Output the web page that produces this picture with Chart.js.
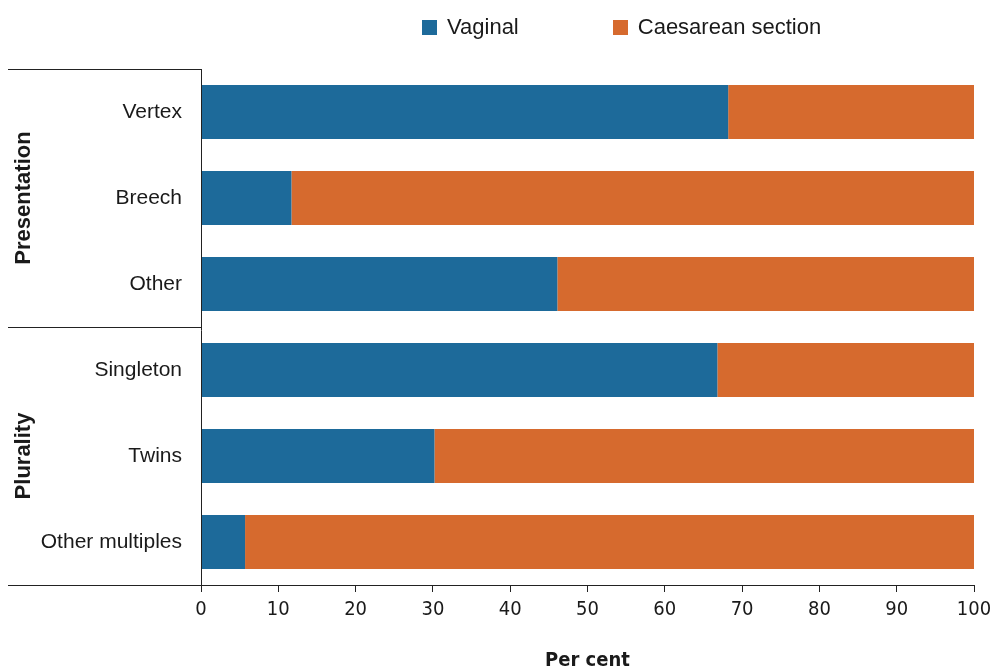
<!DOCTYPE html>
<html>
<head>
<meta charset="utf-8">
<script src="https://cdn.jsdelivr.net/npm/chart.js@4"></script>
<style>
  body{margin:0;background:#fff;font-family:'Liberation Sans',Arial,sans-serif;}
  .wrap{position:relative;width:990px;height:670px;}
  .legend{position:absolute;left:422px;top:14px;display:flex;align-items:center;font-size:22px;color:#1a1a1a;}
  .legend .sw{width:15px;height:15px;display:inline-block;margin-right:10px;}
  .legend .item{display:flex;align-items:center;}
  .legend .item + .item{margin-left:94px;}
</style>
</head>
<body>
<div class="wrap">
  <canvas id="c"></canvas>
  <div class="legend">
    <span class="item"><span class="sw" style="background:#1d6a9a"></span>Vaginal</span>
    <span class="item"><span class="sw" style="background:#d66a2e"></span>Caesarean section</span>
  </div>
</div>
<script>
// data
const categories = ['Vertex','Breech','Other','Singleton','Twins','Other multiples'];
const groupNames = ['Presentation','Plurality'];
const groupSizes = [3,3];
const vaginal    = [68.2, 11.7, 46.1, 66.8, 30.2, 5.7];
const caesarean  = [31.8, 88.3, 53.9, 33.2, 69.8, 94.3];
const xTicks = [0,10,20,30,40,50,60,70,80,90,100];

const BLUE='#1d6a9a', ORANGE='#d66a2e', INK='#222';
const FONT="'Liberation Sans', Arial, sans-serif";
const NARROW="'DejaVu Sans Condensed', 'Liberation Sans', Arial, sans-serif";

// lines at left + rotated group labels
const groupPlugin={
  id:'groups',
  afterDraw(chart){
    const ctx=chart.ctx, ca=chart.chartArea, y=chart.scales.y;
    const band=y.getPixelForValue(1)-y.getPixelForValue(0);
    const edge=i=> i>=categories.length ? ca.bottom : y.getPixelForValue(i)-band/2;
    ctx.save();
    ctx.strokeStyle=INK; ctx.lineWidth=1;
    const lx=Math.round(ca.left)+0.5;
    ctx.beginPath(); ctx.moveTo(lx,ca.top); ctx.lineTo(lx,ca.bottom+7); ctx.stroke();
    let start=0;
    [0].concat(groupSizes).forEach(n=>{
      start+=n;
      const yy=Math.round(edge(start))+0.5;
      ctx.beginPath(); ctx.moveTo(8,yy); ctx.lineTo(ca.left,yy); ctx.stroke();
    });
    ctx.fillStyle='#1a1a1a';
    ctx.font='bold 22px '+FONT;
    ctx.textAlign='center'; ctx.textBaseline='middle';
    start=0;
    groupSizes.forEach((n,k)=>{
      const mid=(edge(start)+edge(start+n))/2;
      ctx.save(); ctx.translate(24,mid); ctx.rotate(-Math.PI/2);
      ctx.fillText(groupNames[k],0,0); ctx.restore();
      start+=n;
    });
    ctx.restore();
  }
};

new Chart(document.getElementById('c'),{
  type:'bar',
  data:{labels:categories,datasets:[
    {label:'Vaginal',data:vaginal,backgroundColor:BLUE,categoryPercentage:1,barPercentage:0.63},
    {label:'Caesarean section',data:caesarean,backgroundColor:ORANGE,categoryPercentage:1,barPercentage:0.63}
  ]},
  options:{
    indexAxis:'y',responsive:true,maintainAspectRatio:false,animation:false,
    layout:{padding:{top:69,right:16,bottom:0,left:0}},
    plugins:{legend:{display:false},tooltip:{enabled:false}},
    scales:{
      x:{stacked:true,min:0,max:100,
        afterBuildTicks:s=>{s.ticks=xTicks.map(v=>({value:v}));},
        afterFit:s=>{s.height=85;s.paddingRight=0;s.paddingLeft=0;},
        grid:{drawOnChartArea:false,drawTicks:true,tickLength:7,color:INK},
        border:{display:true,color:INK},
        ticks:{color:'#1a1a1a',font:{family:NARROW,size:20},padding:6,maxRotation:0},
        title:{display:true,text:'Per cent',color:'#1a1a1a',font:{family:NARROW,size:20,weight:'bold',lineHeight:0.9},padding:{top:0,bottom:0}}
      },
      y:{stacked:true,
        afterFit:s=>{s.width=201;},
        grid:{display:false},border:{display:false},
        ticks:{color:'#1a1a1a',font:{family:FONT,size:21},padding:11}
      }
    }
  },
  plugins:[groupPlugin]
});
</script>
</body>
</html>
